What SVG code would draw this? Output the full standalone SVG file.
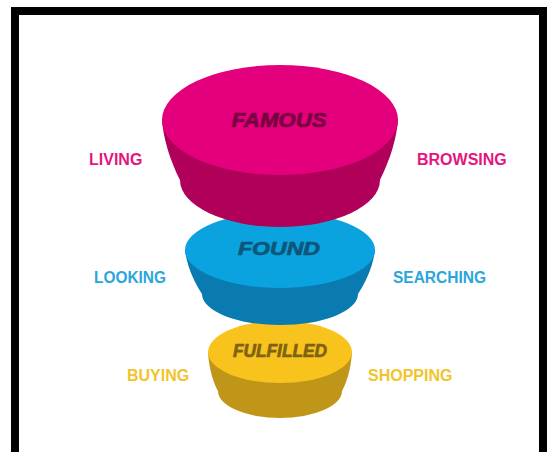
<svg xmlns="http://www.w3.org/2000/svg" width="550" height="452" viewBox="0 0 550 452">
  <style>
    .title { font-family: "Liberation Sans", Arial, sans-serif; font-weight: 700; font-style: italic; text-anchor: middle; stroke-width: 0.7px; }
    .label { font-family: "Liberation Sans", Arial, sans-serif; font-weight: 700; font-size: 16px; }
    .pink-top { fill: #E4007C; }
    .pink-side { fill: #B0005A; }
    .pink-text { fill: #7A0042; stroke: #7A0042; }
    .pink-label { fill: #E5157F; }
    .blue-top { fill: #0BA3DF; }
    .blue-side { fill: #0A7BB1; }
    .blue-text { fill: #0C5679; stroke: #0C5679; }
    .blue-label { fill: #2CA5DD; }
    .gold-top { fill: #F9C31D; }
    .gold-side { fill: #C09619; }
    .gold-text { fill: #7E6212; stroke: #7E6212; }
    .gold-label { fill: #F1C42B; }
  </style>

  <rect x="0" y="0" width="550" height="452" fill="#ffffff"/>
  <!-- frame -->
  <rect x="15" y="11" width="528" height="470" fill="#ffffff" stroke="#000000" stroke-width="8"/>

  <!-- bottom tier -->
  <g id="fulfilled">
    <path class="gold-side" d="M208,352 C209,370 214,384 218,391 A62,27 0 0 0 342,391 C346,384 351,370 352,352 Z"/>
    <ellipse class="gold-top" cx="280" cy="352" rx="72" ry="31"/>
    <text class="title gold-text" x="280" y="356.5" font-size="18" textLength="94" lengthAdjust="spacingAndGlyphs">FULFILLED</text>
  </g>

  <!-- middle tier -->
  <g id="found">
    <path class="blue-side" d="M185,250 C187,268 196,285 202,294 A78,31 0 0 0 358,294 C364,285 373,268 375,250 Z"/>
    <ellipse class="blue-top" cx="280" cy="250" rx="95" ry="38"/>
    <text class="title blue-text" x="279" y="255" font-size="19" textLength="82" lengthAdjust="spacingAndGlyphs">FOUND</text>
  </g>

  <!-- top tier -->
  <g id="famous">
    <path class="pink-side" d="M162,120 C164,145 174,168 180,180 A100,47 0 0 0 380,180 C386,168 396,145 398,120 Z"/>
    <ellipse class="pink-top" cx="280" cy="120" rx="118" ry="55"/>
    <text class="title pink-text" x="279" y="127" font-size="20" textLength="95" lengthAdjust="spacingAndGlyphs">FAMOUS</text>
  </g>

  <!-- side labels -->
  <g id="labels">
    <text class="label pink-label" x="89" y="165">LIVING</text>
    <text class="label pink-label" x="417" y="165">BROWSING</text>
    <text class="label blue-label" x="94" y="283" textLength="72" lengthAdjust="spacingAndGlyphs">LOOKING</text>
    <text class="label blue-label" x="393" y="283" textLength="93" lengthAdjust="spacingAndGlyphs">SEARCHING</text>
    <text class="label gold-label" x="127" y="381">BUYING</text>
    <text class="label gold-label" x="368" y="381">SHOPPING</text>
  </g>
</svg>
